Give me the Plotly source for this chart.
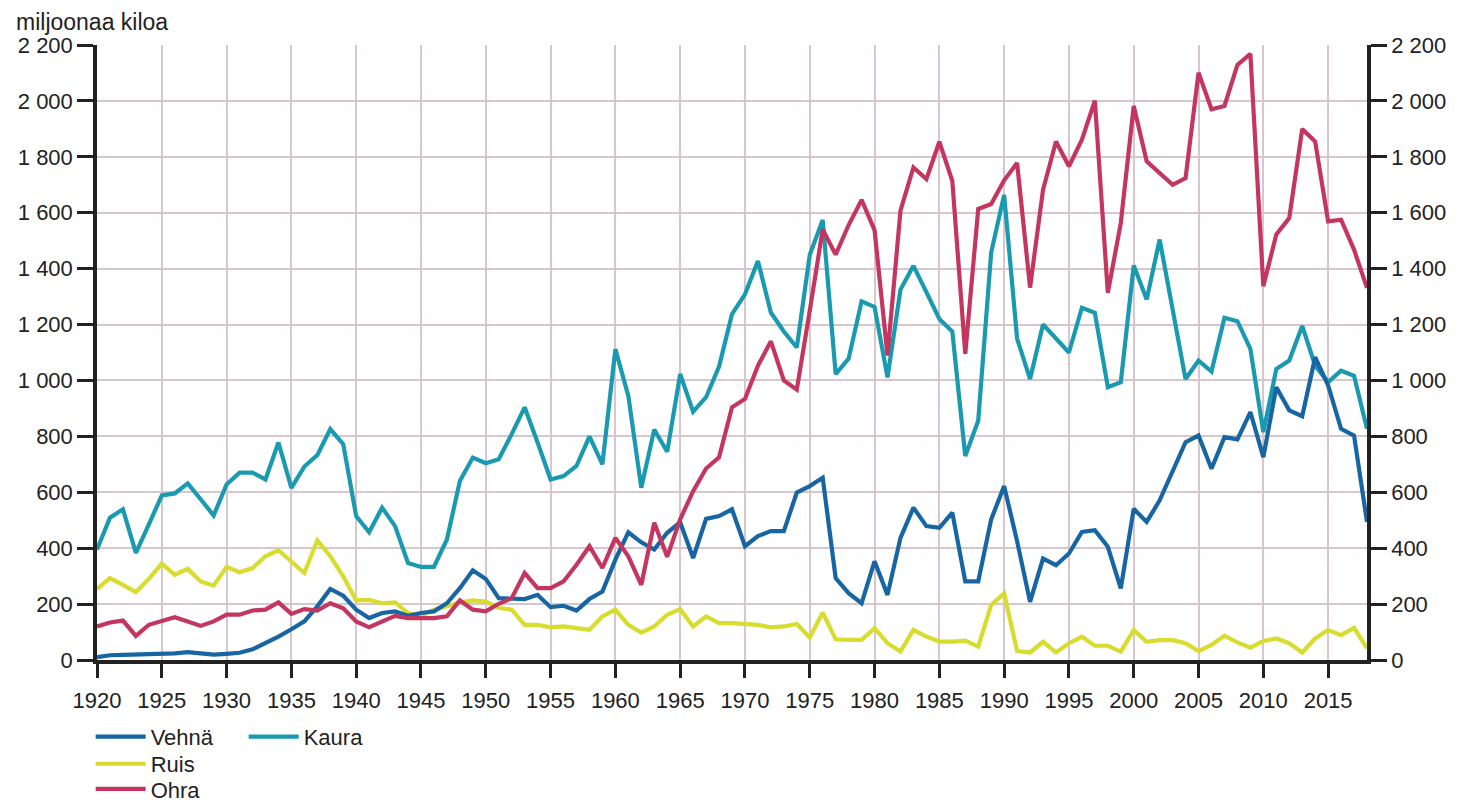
import plotly.graph_objects as go

years = list(range(1920, 2019))

vehna = [10, 17, 18, 19, 20, 24, 24, 28, 24, 19,
         22, 26, 38, 60, 84, 110, 138, 192, 254, 230,
         180, 150, 168, 174, 158, 168, 174, 203, 257, 321,
         290, 221, 221, 218, 233, 189, 194, 177, 218, 245,
         359, 457, 421, 395, 455, 493, 365, 505, 515, 539,
         407, 443, 461, 461, 599, 622, 652, 293, 239, 203,
         353, 233, 437, 545, 479, 473, 527, 281, 281, 503,
         622, 425, 208, 363, 339, 381, 458, 464, 405, 256,
         541, 494, 571, 672, 779, 803, 684, 797, 789, 887,
         726, 976, 893, 872, 1083, 982, 827, 803, 494]

ruis = [254, 293, 269, 243, 290, 345, 305, 326, 281, 266,
        333, 314, 329, 371, 393, 350, 311, 428, 371, 299,
        213, 215, 203, 206, 168, 158, 180, 192, 206, 213,
        209, 186, 180, 126, 126, 117, 120, 114, 108, 156,
        180, 126, 98, 120, 162, 182, 120, 156, 132, 132,
        129, 126, 117, 120, 129, 81, 170, 74, 72, 72,
        114, 60, 30, 108, 84, 66, 66, 69, 48, 197,
        238, 32, 27, 65, 27, 60, 83, 51, 51, 30,
        107, 65, 71, 71, 60, 32, 54, 87, 63, 44,
        68, 77, 60, 27, 77, 107, 89, 115, 42]

ohra = [120, 134, 141, 86, 126, 141, 153, 138, 122, 138,
        162, 162, 177, 180, 206, 165, 182, 177, 203, 185,
        138, 117, 138, 158, 150, 150, 150, 156, 213, 180,
        174, 201, 221, 311, 257, 257, 281, 341, 407, 329,
        437, 371, 269, 491, 369, 503, 604, 685, 725, 904,
        934, 1053, 1140, 1000, 967, 1250, 1540, 1450, 1556, 1646,
        1538, 1089, 1607, 1762, 1720, 1854, 1714, 1095, 1613, 1631,
        1716, 1778, 1332, 1682, 1855, 1766, 1861, 2001, 1313, 1563,
        1982, 1784, 1742, 1700, 1724, 2101, 1970, 1982, 2129, 2168,
        1337, 1522, 1581, 1899, 1855, 1569, 1575, 1468, 1331]

kaura = [395, 509, 539, 383, 485, 589, 596, 632, 575, 517,
         628, 670, 670, 646, 778, 616, 692, 733, 826, 772,
         515, 457, 545, 479, 347, 333, 333, 431, 640, 724,
         704, 718, 808, 904, 778, 646, 658, 694, 800, 700,
         1112, 945, 616, 824, 745, 1023, 888, 940, 1050, 1237,
         1308, 1427, 1243, 1175, 1118, 1450, 1574, 1023, 1078, 1283,
         1263, 1011, 1325, 1410, 1316, 1220, 1175, 730, 856, 1458,
         1664, 1150, 1005, 1200, 1150, 1100, 1260, 1242, 976, 994,
         1411, 1290, 1504, 1260, 1005, 1071, 1032, 1224, 1212, 1113,
         815, 1041, 1071, 1195, 1053, 994, 1035, 1017, 827]

y_ticks = [0, 200, 400, 600, 800, 1000, 1200, 1400, 1600, 1800, 2000, 2200]
y_ticktext = ["0", "200", "400", "600", "800", "1 000", "1 200", "1 400",
              "1 600", "1 800", "2 000", "2 200"]
x_ticks = list(range(1920, 2019, 5))

c_vehna = "#1766a3"
c_kaura = "#1a9ab0"
c_ruis = "#d8dc2e"
c_ohra = "#c4365f"

FONT = "Liberation Sans, Arial, sans-serif"
TXT = "#222222"
LW = 4.2
fig = go.Figure()

fig.add_trace(go.Scatter(x=years, y=kaura, mode="lines", name="Kaura",
                         line=dict(color=c_kaura, width=LW), legend="legend2"))
fig.add_trace(go.Scatter(x=years, y=ruis, mode="lines", name="Ruis",
                         line=dict(color=c_ruis, width=LW), legend="legend3"))
fig.add_trace(go.Scatter(x=years, y=vehna, mode="lines", name="Vehnä",
                         line=dict(color=c_vehna, width=LW), legend="legend"))
fig.add_trace(go.Scatter(x=years, y=ohra, mode="lines", name="Ohra",
                         line=dict(color=c_ohra, width=LW), legend="legend4"))
# invisible helper so the right-hand axis is drawn
fig.add_trace(go.Scatter(x=years, y=kaura, mode="lines", yaxis="y2",
                         line=dict(color="rgba(0,0,0,0)", width=0),
                         showlegend=False, hoverinfo="skip"))

grid_c = "#d9c6cc"


def leg(x, y):
    return dict(x=x, y=y, xanchor="left", yanchor="middle", orientation="v",
                font=dict(size=22, color=TXT), itemwidth=50,
                bgcolor="rgba(0,0,0,0)")


# page body adds an 8 px offset; margins compensate so the plot area
# lands at x 97..1367, y 45..660 in the window
fig.update_layout(
    width=1461, height=803,
    margin=dict(l=89, r=102, t=37, b=151, autoexpand=False),
    paper_bgcolor="white", plot_bgcolor="white",
    font=dict(family=FONT, size=22, color=TXT),
    xaxis=dict(range=[1920, 2018], tickvals=x_ticks, showgrid=True,
               gridcolor=grid_c, gridwidth=1.5, showline=True,
               linecolor=TXT, linewidth=3.5, ticks="outside",
               ticklen=14, tickwidth=3, tickcolor=TXT,
               ticklabelstandoff=4, zeroline=False,
               tickfont=dict(size=22)),
    yaxis=dict(range=[0, 2200], tickvals=y_ticks, ticktext=y_ticktext,
               showgrid=True, gridcolor=grid_c, gridwidth=1.5,
               showline=True, linecolor=TXT, linewidth=3.5,
               ticks="outside", ticklen=16, tickwidth=3,
               tickcolor=TXT, zeroline=False, tickfont=dict(size=22)),
    yaxis2=dict(range=[0, 2200], tickvals=y_ticks, ticktext=y_ticktext,
                overlaying="y", side="right", showgrid=False,
                showline=True, linecolor=TXT, linewidth=3.5,
                ticks="outside", ticklen=16, tickwidth=3,
                tickcolor=TXT, zeroline=False, tickfont=dict(size=22)),
    legend=leg(-0.005, -0.125),
    legend2=leg(0.1155, -0.125),
    legend3=leg(-0.005, -0.169),
    legend4=leg(-0.005, -0.210),
    showlegend=True,
    annotations=[dict(text="miljoonaa kiloa", xref="paper", yref="paper",
                      x=-0.065, y=1.0, xanchor="left", yanchor="bottom",
                      yshift=8, showarrow=False,
                      font=dict(size=23, color=TXT))],
)

fig.write_html("out.html")
